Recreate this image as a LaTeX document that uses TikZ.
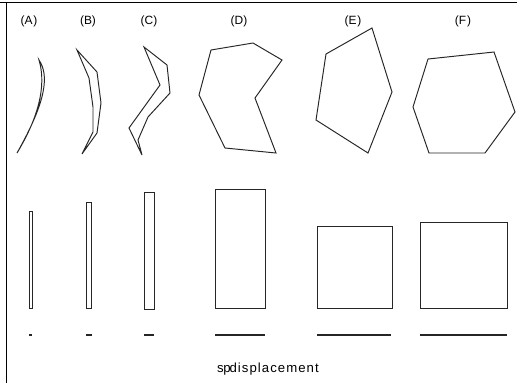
\documentclass[tikz,border=0pt]{standalone}
\usepackage{fontspec}
\setmainfont{Liberation Sans}
\begin{document}
\begin{tikzpicture}[x=0.02cm,y=-0.02cm,
  shp/.style={draw=black!85,line width=0.55pt,line join=miter},
  rct/.style={draw=black!85,line width=0.5pt},
  bar/.style={draw=black!85,line width=0.7pt},
  lab/.style={font=\fontsize{6.8pt}{7pt}\selectfont,inner sep=0pt}]
\useasboundingbox (0,0) rectangle (517,383);
% frame
\draw[line width=0.9pt] (0,2.5) -- (517,2.5);
\draw[line width=0.9pt] (6.5,2.5) -- (6.5,383);
% labels
\node[lab] (la) at (29,21) {(A\kern0.5pt)};
\node[lab] (lb) at (88,21) {(B)};
\node[lab] (lc) at (149,21) {(C)};
\node[lab] (ld) at (239,21) {(D)};
\node[lab] (le) at (353,21) {(E\kern0.5pt)};
\node[lab] (lf) at (463,21) {(F\kern0.5pt)};
% A crescent
\draw[shp] (39,60) .. controls (49,75) and (47,100) .. (17,153)
  .. controls (43,110) and (45,80) .. cycle;
% B
\draw[shp] (77,50) -- (97,72) -- (101,103) -- (97,133) -- (82,154)
  -- (93,132) -- (93,107) -- (89,78) -- cycle;
% C
\draw[shp] (144,47) -- (167,65) -- (170,93) -- (148,117) -- (138,140)
  -- (142,155) -- (129,128) -- (160,85) -- cycle;
% D
\draw[shp] (211,50) -- (253,43) -- (282,60) -- (255,98) -- (276,153)
  -- (225,148) -- (199,95) -- cycle;
% E
\draw[shp] (372,28) -- (392,92) -- (368,153) -- (316,120) -- (326,54) -- cycle;
% F
\draw[shp] (428,59) -- (494,52) -- (515,112) -- (485,153) -- (429,153)
  -- (413,107) -- cycle;
% rectangles
\draw[rct] (29,211) rectangle (32,308);
\draw[rct] (86,202) rectangle (91.5,308);
\draw[rct] (144,192) rectangle (154,309);
\draw[rct] (215,189) rectangle (265,308);
\draw[rct] (317,226) rectangle (392,308);
\draw[rct] (420,222) rectangle (507,308);
% bars
\draw[bar] (29,335) -- (32,335);
\draw[bar] (86,335) -- (91.5,335);
\draw[bar] (144,335) -- (154,335);
\draw[bar] (215,335) -- (265,335);
\draw[bar] (317,335) -- (391,335);
\draw[bar] (420,335) -- (507,335);
% caption
\node[font=\fontsize{7.5pt}{9pt}\selectfont,inner sep=0pt] (cap) at (268,369) {s\kern-0.3pt p\kern-0.6pt d\kern0.6pt i\kern0.6pt s\kern0.6pt p\kern0.6pt l\kern0.6pt a\kern0.6pt c\kern0.6pt e\kern0.6pt m\kern0.6pt e\kern0.6pt n\kern0.6pt t};
\end{tikzpicture}
\end{document}
